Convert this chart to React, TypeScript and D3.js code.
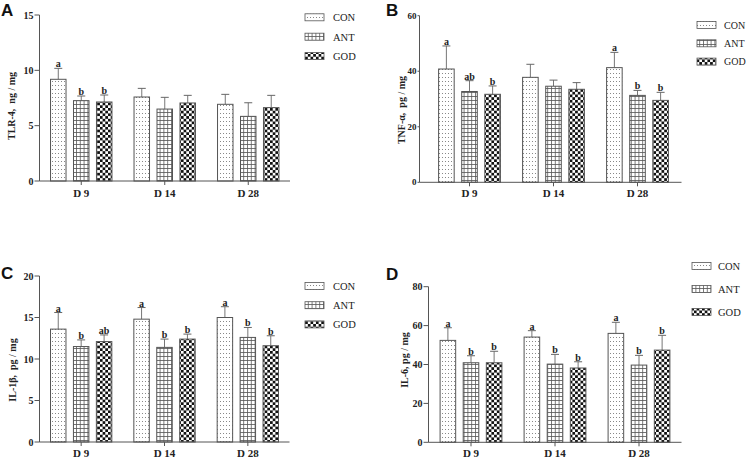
import React from "react";
import * as d3 from "d3";

// ---------- DATA ----------
const days = ["D 9", "D 14", "D 28"];
const groups = ["CON", "ANT", "GOD"];

// values per day: [CON, ANT, GOD]
const tlr4Mean = [[9.19, 7.26, 7.14], [7.59, 6.5, 7.05], [6.93, 5.84, 6.63]];
const tlr4Err = [[0.99, 0.42, 0.63], [0.78, 1.06, 0.69], [0.9, 1.23, 1.11]];
const tlr4Sig = [["a", "b", "b"], ["", "", ""], ["", "", ""]];
const tlr4Ticks = [0, 5, 10, 15];

const tnfMean = [[40.8, 32.7, 31.7], [37.8, 34.6, 33.5], [41.3, 31.3, 29.5]];
const tnfErr = [[8.3, 3.9, 3.0], [4.7, 2.2, 2.4], [5.5, 1.8, 2.9]];
const tnfSig = [["a", "ab", "b"], ["", "", ""], ["a", "b", "b"]];
const tnfTicks = [0, 20, 40, 60];

const il1Mean = [[13.6, 11.5, 12.1], [14.8, 11.4, 12.4], [15.0, 12.6, 11.6]];
const il1Err = [[2.0, 0.8, 0.8], [1.4, 1.0, 0.6], [1.3, 1.2, 1.2]];
const il1Sig = [["a", "b", "ab"], ["a", "b", "b"], ["a", "b", "b"]];
const il1Ticks = [0, 5, 10, 15, 20];

const il6Mean = [[52.4, 40.9, 40.9], [54.1, 40.2, 38.2], [56.0, 39.7, 47.4]];
const il6Err = [[6.5, 3.6, 5.9], [3.3, 5.0, 3.2], [5.7, 5.0, 7.6]];
const il6Sig = [["a", "b", "b"], ["a", "b", "b"], ["a", "b", "b"]];
const il6Ticks = [0, 20, 40, 60, 80];

// ---------- LAYOUT ----------
const panels = [
  {
    id: "A", title: "TLR-4,  ng / mg", mean: tlr4Mean, err: tlr4Err, sig: tlr4Sig, ticks: tlr4Ticks,
    letterX: 1, letterY: 16, axisX: 39.5, axisEnd: 290, band: [39.5, 290], yBottom: 181, yTop: 15,
    tickLen: 5, tickFont: 10, titleX: 15, titleY: 106, legX: 305, legY: 17.3, legDy: 19.4, legTx: 333, legFont: 10.5, labelY: 196.5,
  },
  {
    id: "B", title: "TNF-α,  pg / mg", mean: tnfMean, err: tnfErr, sig: tnfSig, ticks: tnfTicks,
    letterX: 386, letterY: 16, axisX: 419.5, axisEnd: 681.5, band: [427.5, 679.5], yBottom: 182.3, yTop: 15.7,
    tickLen: 2, tickFont: 9, titleX: 405, titleY: 110, legX: 697, legY: 25, legDy: 18.3, legTx: 724, legFont: 10, labelY: 196.5,
  },
  {
    id: "C", title: "IL-1β,  pg / mg", mean: il1Mean, err: il1Err, sig: il1Sig, ticks: il1Ticks,
    letterX: 1, letterY: 279, axisX: 39.5, axisEnd: 289.5, band: [39.5, 289.5], yBottom: 442, yTop: 276,
    tickLen: 5, tickFont: 10, titleX: 16, titleY: 370, legX: 305, legY: 286, legDy: 19.2, legTx: 333, legFont: 10.5, labelY: 456.5,
  },
  {
    id: "D", title: "IL-6, pg / mg", mean: il6Mean, err: il6Err, sig: il6Sig, ticks: il6Ticks,
    letterX: 386, letterY: 280, axisX: 428.5, axisEnd: 681.5, band: [429, 681], yBottom: 442.3, yTop: 286.7,
    tickLen: 5, tickFont: 10, titleX: 408, titleY: 360, legX: 692, legY: 266, legDy: 23, legTx: 718, legFont: 10.5, labelY: 456.5,
  },
];

const fills = ["url(#pDots)", "url(#pGrid)", "url(#pCheck)"];
const serif = "'Liberation Serif', 'Times New Roman', serif";
const axisColor = "#555";
const textColor = "#222";

function Panel({ p }: { p: any }) {
  const maxTick = p.ticks[p.ticks.length - 1];
  const y = d3.scaleLinear().domain([0, maxTick]).range([p.yBottom, p.yTop]);
  const x0 = d3.scaleBand<string>().domain(days).range(p.band).padding(0);
  const x1 = d3
    .scaleBand<string>()
    .domain(groups)
    .range([0, x0.bandwidth()])
    .paddingInner(0.326)
    .paddingOuter(0.48);
  const bw = x1.bandwidth();
  const capW = 8;

  return (
    <g>
      <text x={p.letterX} y={p.letterY} fontFamily="'Liberation Sans', Arial, sans-serif" fontWeight="bold" fontSize={17} fill="#111">
        {p.id}
      </text>
      {/* bars */}
      {days.map((day, di) =>
        groups.map((g, gi) => {
          const m = p.mean[di][gi];
          const e = p.err[di][gi];
          const bx = (x0(day) as number) + (x1(g) as number);
          const cx = bx + bw / 2;
          const top = y(m);
          const cap = y(m + e);
          const s = p.sig[di][gi];
          return (
            <g key={day + g}>
              <line x1={cx} x2={cx} y1={top} y2={cap} stroke="#777" strokeWidth={1} />
              <line x1={cx - capW / 2} x2={cx + capW / 2} y1={cap} y2={cap} stroke="#666" strokeWidth={1} />
              <rect x={bx} y={top} width={bw} height={p.yBottom - top} fill={fills[gi]} stroke="#555" strokeWidth={1} />
              {s && (
                <text x={cx} y={cap - 1} textAnchor="middle" fontFamily={serif} fontWeight="bold" fontSize={10} fill={textColor}>
                  {s}
                </text>
              )}
            </g>
          );
        })
      )}
      {/* axes */}
      <line x1={p.axisX} x2={p.axisX} y1={p.yBottom} y2={y(maxTick)} stroke={axisColor} strokeWidth={1} />
      <line x1={p.axisX} x2={p.axisEnd} y1={p.yBottom} y2={p.yBottom} stroke={axisColor} strokeWidth={1} />
      {p.ticks.map((t: number) => (
        <g key={t}>
          <line x1={p.axisX - p.tickLen} x2={p.axisX} y1={y(t)} y2={y(t)} stroke={axisColor} strokeWidth={1} />
          <text
            x={p.axisX - p.tickLen - 1}
            y={y(t) + p.tickFont * 0.35}
            textAnchor="end"
            fontFamily={serif}
            fontWeight="bold"
            fontSize={p.tickFont}
            fill={textColor}
          >
            {t}
          </text>
        </g>
      ))}
      {days.map((day) => {
        const cx = (x0(day) as number) + x0.bandwidth() / 2;
        return (
          <g key={day}>
            <line x1={cx} x2={cx} y1={p.yBottom} y2={p.yBottom + 4} stroke={axisColor} strokeWidth={1} />
            <text x={cx} y={p.labelY} textAnchor="middle" fontFamily={serif} fontWeight="bold" fontSize={11} fill={textColor}>
              {day}
            </text>
          </g>
        );
      })}
      <text
        transform={`translate(${p.titleX},${p.titleY}) rotate(-90)`}
        textAnchor="middle"
        fontFamily={serif}
        fontWeight="bold"
        fontSize={10}
        fill={textColor}
        style={{ whiteSpace: "pre" }}
      >
        {p.title}
      </text>
      {/* legend */}
      {groups.map((g, gi) => (
        <g key={g}>
          <rect x={p.legX} y={p.legY + gi * p.legDy - 3.5} width={19} height={7} fill={fills[gi]} stroke="#555" strokeWidth={0.8} />
          <text x={p.legTx} y={p.legY + gi * p.legDy + 3.8} fontFamily={serif} fontSize={p.legFont} fill={textColor}>
            {g}
          </text>
        </g>
      ))}
    </g>
  );
}

export default function App() {
  return (
    <svg width={747} height={457} style={{ position: "absolute", left: 0, top: 0, background: "#fff" }}>
      <defs>
        <pattern id="pDots" patternUnits="userSpaceOnUse" width={3} height={4}>
          <rect width={3} height={4} fill="#fff" />
          <rect x={1} y={1} width={1} height={1} fill="#888" />
        </pattern>
        <pattern id="pGrid" patternUnits="userSpaceOnUse" width={3.8} height={4}>
          <rect width={3.8} height={4} fill="#fff" />
          <line x1={0} x2={3.8} y1={0.5} y2={0.5} stroke="#555" strokeWidth={0.8} />
          <line x1={0.5} x2={0.5} y1={0} y2={4} stroke="#555" strokeWidth={0.8} />
        </pattern>
        <pattern id="pCheck" patternUnits="userSpaceOnUse" width={5.4} height={5.4}>
          <rect width={5.4} height={5.4} fill="#fff" />
          <rect x={0} y={0} width={2.7} height={2.7} fill="#111" />
          <rect x={2.7} y={2.7} width={2.7} height={2.7} fill="#111" />
        </pattern>
      </defs>
      {panels.map((p) => (
        <Panel key={p.id} p={p} />
      ))}
    </svg>
  );
}
